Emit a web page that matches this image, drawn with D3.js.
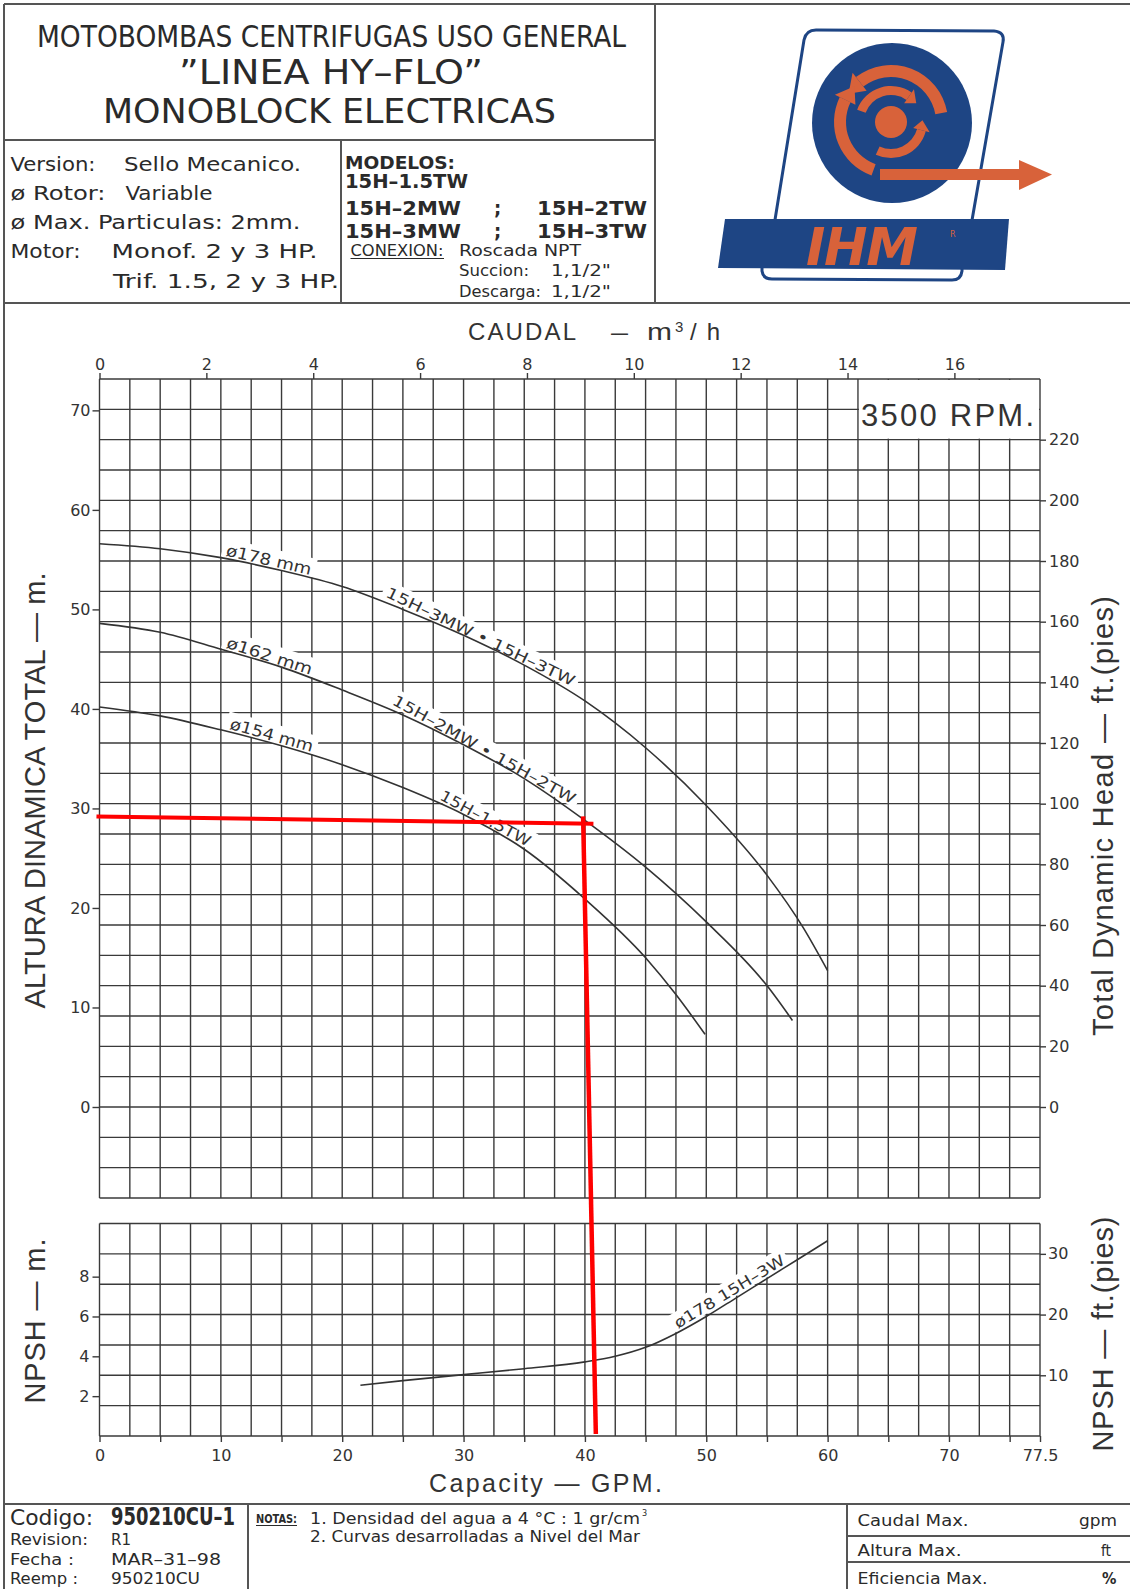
<!DOCTYPE html>
<html>
<head>
<meta charset="utf-8">
<title>IHM 15H - curvas</title>
<script src="https://cdn.jsdelivr.net/npm/d3@7"></script>
<style>
  body { margin: 0; background: #fff; }
</style>
</head>
<body>
<script>
// unidades
const FT_PER_M = 3.28084;
const M3H_PER_GPM = 0.2271247;

// ejes
const gpmLabels = [0, 10, 20, 30, 40, 50, 60, 70, 77.5];
const gpmTicks = [0, 5, 10, 15, 20, 25, 30, 35, 40, 45, 50, 55, 60, 65, 70, 75, 77.5];
const m3hTicks = [0, 2, 4, 6, 8, 10, 12, 14, 16];
const headMTicks = [0, 10, 20, 30, 40, 50, 60, 70];
const headFtTicks = [0, 20, 40, 60, 80, 100, 120, 140, 160, 180, 200, 220];
const npshMTicks = [2, 4, 6, 8];
const npshFtTicks = [10, 20, 30];

// curvas H-Q (GPM, m)
const flow178 = [0, 5, 10, 15, 20, 25, 30, 35, 40, 45, 50, 55, 58, 60];
const head178 = [56.6, 56.1, 55.2, 53.9, 52.3, 50.0, 47.4, 44.4, 40.8, 36.1, 30.3, 23.3, 18.0, 13.7];
const flow162 = [0, 5, 10, 15, 20, 25, 30, 35, 40, 45, 50, 55, 57.1];
const head162 = [48.6, 47.7, 46.0, 44.2, 41.9, 39.4, 36.4, 33.0, 28.8, 24.1, 18.6, 12.2, 8.7];
const flow154 = [0, 5, 10, 15, 20, 25, 30, 35, 40, 45, 47.5, 49.9];
const head154 = [40.2, 39.3, 37.9, 36.3, 34.4, 32.1, 29.4, 25.9, 20.9, 15.0, 11.3, 7.3];

// NPSH (GPM, m)
const npshFlow = [21.5, 25, 30, 35, 40, 42.5, 45, 47.5, 50, 52.5, 55, 57.5, 60];
const npshHead = [2.55, 2.78, 3.08, 3.38, 3.72, 4.0, 4.45, 5.15, 6.0, 6.95, 7.9, 8.85, 9.8];

// punto de operacion marcado en rojo
const redFlowH = [-0.25, 40.7];
const redHeadH = [29.2, 28.45];
const redFlowV = [39.85, 40.9];
const redTopHead = 29.2;
const redBotNpsh = 0.1;

const COND = "'DejaVu Sans Condensed', 'DejaVu Sans', sans-serif";
const SANS = "'DejaVu Sans', sans-serif";
const LIB = "'Liberation Sans', Arial, sans-serif";
const ink = "#2a2a2a";
const gridC = "#3a3a3a";
const frameC = "#555";
const blue = "#1e4584";
const orange = "#d8623a";

const W = 1130, H = 1589;
const L = 99.5, R = 1040;
const headTop = 379, headBot = 1198;
const npshTop = 1223.5, npshBot = 1436;

const svg = d3.select("body").append("svg").attr("width", W).attr("height", H)
  .style("display", "block").style("background", "#fff");

function txt(g, s, x, y, o = {}) {
  const t = g.append("text").attr("x", x).attr("y", y).text(s)
    .attr("font-size", o.size || 18)
    .attr("font-family", o.family || COND)
    .attr("fill", o.fill || ink);
  if (o.len) t.attr("textLength", o.len).attr("lengthAdjust", o.adjust || "spacingAndGlyphs");
  if (o.weight) t.attr("font-weight", o.weight);
  if (o.anchor) t.attr("text-anchor", o.anchor);
  if (o.rotate) t.attr("transform", `rotate(${o.rotate},${x},${y})`);
  if (o.style) t.attr("font-style", o.style);
  return t;
}

function hline(y, x1, x2) {
  svg.append("line").attr("x1", x1).attr("x2", x2).attr("y1", y).attr("y2", y)
    .attr("stroke", frameC).attr("stroke-width", 2);
}
function vline(x, y1, y2) {
  svg.append("line").attr("x1", x).attr("x2", x).attr("y1", y1).attr("y2", y2)
    .attr("stroke", frameC).attr("stroke-width", 2);
}

// marco del plano
hline(4, 4, W); vline(4, 4, H);
hline(140, 4, 655); vline(655, 4, 303);
hline(303, 4, W); vline(341, 140, 303);
hline(1504, 4, W); vline(248, 1504, H); vline(847, 1504, H);
hline(1536, 847, W); hline(1562, 847, W);

// cabecera
const head = svg.append("g");
txt(head, "MOTOBOMBAS CENTRIFUGAS USO GENERAL", 37, 47, { size: 30, len: 589 });
txt(head, "\u201DLINEA HY\u2013FLO\u201D", 179, 83.5, { size: 34, len: 304 });
txt(head, "MONOBLOCK  ELECTRICAS", 103, 123, { size: 34, len: 453 });

txt(head, "Version:", 10.5, 171, { size: 19, len: 85 });
txt(head, "Sello Mecanico.", 124, 171, { size: 19, len: 177 });
txt(head, "\u00F8 Rotor:", 10.5, 199.5, { size: 19, len: 95 });
txt(head, "Variable", 125.5, 199.5, { size: 19, len: 87 });
txt(head, "\u00F8 Max. Particulas: 2mm.", 10.5, 228.5, { size: 19, len: 290 });
txt(head, "Motor:", 10.5, 258, { size: 19, len: 70 });
txt(head, "Monof. 2 y 3 HP.", 111.5, 258, { size: 19, len: 206 });
txt(head, "Trif. 1.5, 2 y 3 HP.", 113, 287.5, { size: 19, len: 226 });

txt(head, "MODELOS:", 345, 168.5, { size: 18, len: 110, weight: "bold" });
txt(head, "15H\u20131.5TW", 345, 187.5, { size: 19, len: 123, weight: "bold" });
txt(head, "15H\u20132MW", 345, 214.5, { size: 20, len: 116, weight: "bold" });
txt(head, ";", 494, 214.5, { size: 20, weight: "bold" });
txt(head, "15H\u20132TW", 537, 214.5, { size: 20, len: 110, weight: "bold" });
txt(head, "15H\u20133MW", 345, 237.5, { size: 20, len: 116, weight: "bold" });
txt(head, ";", 494, 237.5, { size: 20, weight: "bold" });
txt(head, "15H\u20133TW", 537, 237.5, { size: 20, len: 110, weight: "bold" });
txt(head, "CONEXION:", 350.5, 255.5, { size: 15, len: 93 });
head.append("line").attr("x1", 350.5).attr("x2", 444).attr("y1", 258.5).attr("y2", 258.5)
  .attr("stroke", ink).attr("stroke-width", 1.2);
txt(head, "Roscada NPT", 459, 255.5, { size: 16, len: 122 });
txt(head, "Succion:", 459, 276, { size: 16, len: 70 });
txt(head, "1,1/2\"", 551, 276, { size: 16, len: 60 });
txt(head, "Descarga:", 459, 296.5, { size: 16, len: 82 });
txt(head, "1,1/2\"", 551, 296.5, { size: 16, len: 60 });

// logo IHM
const logo = svg.append("g");
logo.append("path")
  .attr("d", "M774,226 L804,40 Q806,30 816,30 L994,31 Q1005,32 1003,42 L971,226")
  .attr("fill", "none").attr("stroke", blue).attr("stroke-width", 3);
logo.append("path")
  .attr("d", "M762,262 L762,271 Q763,279 772,279 L952,280 Q961,280 962,271 L962,262")
  .attr("fill", "none").attr("stroke", blue).attr("stroke-width", 3);
const lcx = 891, lcy = 122;
logo.append("circle").attr("cx", lcx + 1).attr("cy", lcy + 1).attr("r", 80).attr("fill", blue);
const polar = (r, a) => [lcx + r * Math.sin(a), lcy - r * Math.cos(a)];
const arcGen = d3.arc();
const deg = Math.PI / 180;
const swirl = [
  { r0: 45, r1: 57, a0: -38, a1: 80, head: -38, dir: -1 },
  { r0: 45, r1: 57, a0: 200, a1: 296, head: 296, dir: 1 },
  { r0: 27, r1: 36, a0: 105, a1: 205, head: 105, dir: -1 },
  { r0: 27, r1: 36, a0: -70, a1: 35, head: 35, dir: 1 }
];
swirl.forEach(s => {
  logo.append("path")
    .attr("d", arcGen({ innerRadius: s.r0, outerRadius: s.r1, startAngle: s.a0 * deg, endAngle: s.a1 * deg }))
    .attr("transform", `translate(${lcx},${lcy})`).attr("fill", orange);
  const rm = (s.r0 + s.r1) / 2, w = (s.r1 - s.r0) * 0.95;
  const a = s.head * deg;
  const p1 = polar(rm - w, a), p2 = polar(rm + w, a), tip = polar(rm, a + s.dir * 0.32);
  logo.append("path").attr("d", `M${p1}L${p2}L${tip}Z`).attr("fill", orange);
});
logo.append("circle").attr("cx", lcx).attr("cy", lcy).attr("r", 16).attr("fill", orange);
logo.append("rect").attr("x", 880).attr("y", 169).attr("width", 142).attr("height", 11).attr("fill", orange);
logo.append("path").attr("d", "M1019,160 L1052,174.5 L1019,190 Z").attr("fill", orange);
logo.append("path").attr("d", "M725,219 L1009,219 L1005,270 L718,268 Z").attr("fill", blue);
txt(logo, "IHM", 806, 265, { size: 52, family: SANS, weight: "bold", style: "italic", fill: orange, len: 112, adjust: "spacing" });
txt(logo, "R", 950, 237, { size: 8, family: SANS, fill: orange });

// escalas
const x = d3.scaleLinear().domain([0, 77.5]).range([L, R]);
const xm3 = d3.scaleLinear().domain([0, 77.5 * M3H_PER_GPM]).range([L, R]);
const yFt = d3.scaleLinear().domain([-30, 240]).range([headBot, headTop]);
const yM = d3.scaleLinear().domain([-30 / FT_PER_M, 240 / FT_PER_M]).range([headBot, headTop]);
const nFt = d3.scaleLinear().domain([0, 35]).range([npshBot, npshTop]);
const nM = d3.scaleLinear().domain([0, 35 / FT_PER_M]).range([npshBot, npshTop]);

// cuadriculas
const grid = svg.append("g").attr("stroke", gridC).attr("stroke-width", 1.4);
const vGrid = d3.range(0, 77.5 + 0.01, 2.5);
vGrid.forEach(v => {
  grid.append("line").attr("x1", x(v)).attr("x2", x(v)).attr("y1", headTop).attr("y2", headBot);
  grid.append("line").attr("x1", x(v)).attr("x2", x(v)).attr("y1", npshTop).attr("y2", npshBot);
});
d3.range(-30, 240 + 0.01, 10).forEach(v => {
  grid.append("line").attr("x1", L).attr("x2", R).attr("y1", yFt(v)).attr("y2", yFt(v));
});
d3.range(0, 35 + 0.01, 5).forEach(v => {
  grid.append("line").attr("x1", L).attr("x2", R).attr("y1", nFt(v)).attr("y2", nFt(v));
});

// recuadro RPM
svg.append("rect").attr("x", x(62.5) + 1).attr("y", headTop + 1)
  .attr("width", x(77.5) - x(62.5) - 2).attr("height", yFt(220) - headTop - 2).attr("fill", "#fff");
txt(svg, "3500  RPM.", 861, 426, { size: 31, family: LIB, len: 173, adjust: "spacing", fill: "#333" });

// ejes
function styleAxis(g, size) {
  g.select(".domain").remove();
  g.selectAll("line").attr("stroke", gridC).attr("stroke-width", 1.4);
  g.selectAll("text").attr("font-size", size || 16).attr("font-family", SANS).attr("fill", "#333");
}
svg.append("g").attr("transform", `translate(0,${headTop})`)
  .call(d3.axisTop(xm3).tickValues(m3hTicks).tickSize(6).tickPadding(3)).call(styleAxis);
svg.append("g").attr("transform", `translate(${L},0)`)
  .call(d3.axisLeft(yM).tickValues(headMTicks).tickSize(7).tickPadding(2)).call(styleAxis);
svg.append("g").attr("transform", `translate(${R},0)`)
  .call(d3.axisRight(yFt).tickValues(headFtTicks).tickSize(6).tickPadding(3)).call(styleAxis);
svg.append("g").attr("transform", `translate(${L},0)`)
  .call(d3.axisLeft(nM).tickValues(npshMTicks).tickSize(7).tickPadding(3)).call(styleAxis);
svg.append("g").attr("transform", `translate(${R},0)`)
  .call(d3.axisRight(nFt).tickValues(npshFtTicks).tickSize(6).tickPadding(2)).call(styleAxis);
svg.append("g").attr("transform", `translate(0,${npshBot})`)
  .call(d3.axisBottom(x).tickValues(gpmTicks).tickSize(6).tickPadding(8)
    .tickFormat(d => gpmLabels.includes(d) ? d : "")).call(styleAxis);

// titulos de ejes
const ax = svg.append("g");
txt(ax, "CAUDAL", 468, 340, { size: 24, family: LIB, len: 108, adjust: "spacing", fill: "#333" });
txt(ax, "\u2014", 611, 340, { size: 24, family: LIB, len: 17, fill: "#333" });
txt(ax, "m", 647, 340, { size: 24, family: LIB, len: 25, fill: "#333" });
txt(ax, "3", 675, 332, { size: 15, family: LIB, fill: "#333" });
txt(ax, "/h", 690, 340, { size: 24, family: LIB, len: 30, adjust: "spacing", fill: "#333" });
txt(ax, "Capacity  \u2014  GPM.", 545.5, 1492, { size: 25, family: LIB, len: 233, adjust: "spacing", anchor: "middle", fill: "#333" });
txt(ax, "ALTURA  DINAMICA  TOTAL  \u2014  m.", 44.5, 790.5, { size: 29, family: LIB, len: 436, adjust: "spacing", anchor: "middle", rotate: -90, fill: "#333" });
txt(ax, "Total  Dynamic  Head  \u2014  ft.(pies)", 1113, 816, { size: 29, family: LIB, len: 440, adjust: "spacing", anchor: "middle", rotate: -90, fill: "#333" });
txt(ax, "NPSH  \u2014  m.", 44.5, 1321, { size: 29, family: LIB, len: 165, adjust: "spacing", anchor: "middle", rotate: -90, fill: "#333" });
txt(ax, "NPSH  \u2014  ft.(pies)", 1113, 1334, { size: 29, family: LIB, len: 235, adjust: "spacing", anchor: "middle", rotate: -90, fill: "#333" });

// curvas
const headCurves = [
  { flow: flow178, head: head178 },
  { flow: flow162, head: head162 },
  { flow: flow154, head: head154 }
];
const interp = (flow, vals, q) => {
  const i = Math.max(1, d3.bisectLeft(flow, q));
  const t = (q - flow[i - 1]) / (flow[i] - flow[i - 1]);
  return vals[i - 1] + t * (vals[i] - vals[i - 1]);
};

const labels = [
  { s: "\u00F8178 mm", c: headCurves[0], y: yM, q0: 10.3, q1: 17.3, size: 16, off: 3 },
  { s: "15H\u20133MW \u2022 15H\u20133TW", c: headCurves[0], y: yM, q0: 23.3, q1: 38.7, size: 15, off: 6 },
  { s: "\u00F8162 mm", c: headCurves[1], y: yM, q0: 10.3, q1: 17.3, size: 16, off: 3 },
  { s: "15H\u20132MW \u2022 15H\u20132TW", c: headCurves[1], y: yM, q0: 23.8, q1: 38.7, size: 15, off: 6 },
  { s: "\u00F8154 mm", c: headCurves[2], y: yM, q0: 10.6, q1: 17.4, size: 16, off: 3 },
  { s: "15H\u20131.5TW", c: headCurves[2], y: yM, q0: 27.8, q1: 35.1, size: 15, off: 4 },
  { s: "\u00F8178 15H\u20133W", c: { flow: npshFlow, head: npshHead }, y: nM, q0: 47.8, q1: 56.7, size: 15, off: 3 }
];
const maskLayer = svg.append("g");
const curveLayer = svg.append("g");
const textLayer = svg.append("g");
labels.forEach(l => {
  const xa = x(l.q0), ya = l.y(interp(l.c.flow, l.c.head, l.q0));
  const xb = x(l.q1), yb = l.y(interp(l.c.flow, l.c.head, l.q1));
  const ang = Math.atan2(yb - ya, xb - xa) * 180 / Math.PI;
  const len = Math.hypot(xb - xa, yb - ya);
  maskLayer.append("rect").attr("x", -4).attr("y", -l.off - l.size - 1).attr("width", len + 8).attr("height", l.size + 3)
    .attr("fill", "#fff").attr("transform", `translate(${xa},${ya}) rotate(${ang})`);
  textLayer.append("text").attr("x", 0).attr("y", -l.off).text(l.s)
    .attr("font-size", l.size).attr("font-family", SANS).attr("fill", "#333")
    .attr("textLength", len).attr("lengthAdjust", "spacingAndGlyphs")
    .attr("transform", `translate(${xa},${ya}) rotate(${ang})`);
});

const lineH = d3.line().x(d => x(d[0])).y(d => yM(d[1])).curve(d3.curveMonotoneX);
headCurves.forEach(c => {
  curveLayer.append("path").attr("d", lineH(d3.zip(c.flow, c.head)))
    .attr("fill", "none").attr("stroke", "#333").attr("stroke-width", 1.6);
});
const lineN = d3.line().x(d => x(d[0])).y(d => nM(d[1])).curve(d3.curveMonotoneX);
curveLayer.append("path").attr("d", lineN(d3.zip(npshFlow, npshHead)))
  .attr("fill", "none").attr("stroke", "#333").attr("stroke-width", 1.6);

// lineas rojas
svg.append("line").attr("x1", x(redFlowH[0])).attr("y1", yM(redHeadH[0]))
  .attr("x2", x(redFlowH[1])).attr("y2", yM(redHeadH[1]))
  .attr("stroke", "#ff0000").attr("stroke-width", 4);
svg.append("line").attr("x1", x(redFlowV[0])).attr("y1", yM(redTopHead))
  .attr("x2", x(redFlowV[1])).attr("y2", nM(redBotNpsh))
  .attr("stroke", "#ff0000").attr("stroke-width", 4.5);

// pie de plano
const foot = svg.append("g");
txt(foot, "Codigo:", 10, 1525, { size: 21, len: 83 });
txt(foot, "950210CU\u20131", 111, 1525, { size: 24, len: 124, weight: "bold" });
txt(foot, "Revision:", 10, 1545, { size: 16, len: 78 });
txt(foot, "R1", 111, 1545, { size: 16, len: 20 });
txt(foot, "Fecha :", 10, 1565, { size: 16, len: 64 });
txt(foot, "MAR\u201331\u201398", 111, 1565, { size: 16, len: 110 });
txt(foot, "Reemp :", 10, 1584, { size: 16, len: 68 });
txt(foot, "950210CU", 111, 1584, { size: 16, len: 89 });

txt(foot, "NOTAS:", 256, 1523, { size: 13, len: 41, weight: "bold" });
foot.append("line").attr("x1", 256).attr("x2", 297).attr("y1", 1525.5).attr("y2", 1525.5)
  .attr("stroke", ink).attr("stroke-width", 1);
txt(foot, "1. Densidad del agua a 4 \u00B0C : 1 gr/cm", 310, 1524, { size: 15, len: 330 });
txt(foot, "3", 642, 1516, { size: 9 });
txt(foot, "2. Curvas desarrolladas a Nivel del Mar", 310, 1542, { size: 15, len: 330 });

txt(foot, "Caudal Max.", 857.5, 1526, { size: 16, len: 111 });
txt(foot, "gpm", 1079, 1526, { size: 16, len: 38 });
txt(foot, "Altura Max.", 857.5, 1556, { size: 16, len: 104 });
txt(foot, "ft", 1101, 1556, { size: 16, len: 10 });
txt(foot, "Eficiencia Max.", 857.5, 1584, { size: 16, len: 130 });
txt(foot, "%", 1102, 1584, { size: 16, weight: "bold" });
</script>
</body>
</html>
